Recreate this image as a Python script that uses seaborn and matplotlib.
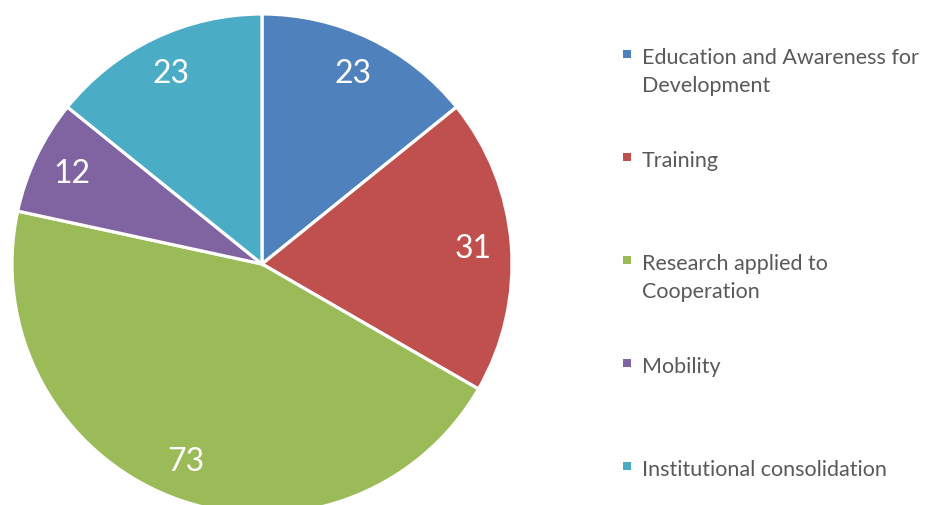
import matplotlib
matplotlib.use("Agg")
import matplotlib.pyplot as plt
import seaborn as sns

categories = ["Education and Awareness for\nDevelopment", "Training",
              "Research applied to\nCooperation", "Mobility",
              "Institutional consolidation"]
values = [23, 31, 73, 12, 23]
colors = ["#4F81BD", "#C0504D", "#9BBB59", "#8064A2", "#4BACC6"]

sns.set_theme(style="white")
plt.rcParams["font.family"] = ["Lato", "DejaVu Sans"]
palette = sns.color_palette(colors)

W, H = 927, 506
fig = plt.figure(figsize=(W / 100, H / 100), dpi=100)
ax = fig.add_axes([0, 0, 1, 1])

wedges, texts = ax.pie(values, colors=palette, startangle=90, counterclock=False,
                       center=(262, H - 265), radius=250,
                       labels=[str(v) for v in values], labeldistance=0.845,
                       wedgeprops=dict(edgecolor="white", linewidth=2.3),
                       textprops=dict(color="white", fontsize=23))
for t in texts:
    t.set_horizontalalignment("center")
    t.set_verticalalignment("center")

ax.set_xlim(0, W)
ax.set_ylim(0, H)
ax.set_aspect("equal")
ax.axis("off")

# legend (marker aligned with first text line)
for i, (lab, c) in enumerate(zip(categories, palette)):
    y = H - (55 + i * 103)
    ax.scatter([627], [y], marker="s", s=26, color=c, zorder=5, linewidths=0)
    for k, line in enumerate(lab.split("\n")):
        ax.text(642, y - 9 - k * 28, line, fontsize=15.5, color="#595959",
                ha="left", va="baseline")

fig.savefig("out.png", dpi=100)
